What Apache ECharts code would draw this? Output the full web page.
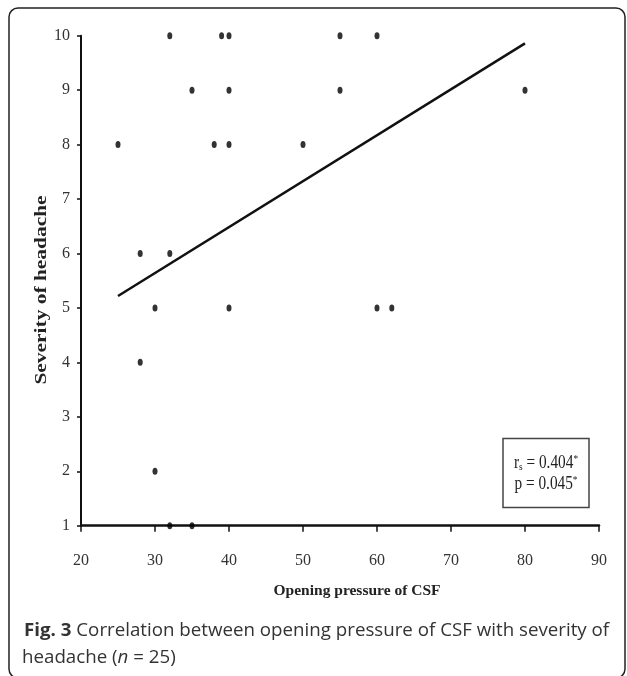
<!DOCTYPE html>
<html>
<head>
<meta charset="utf-8">
<script src="https://cdn.jsdelivr.net/npm/echarts@6/dist/echarts.min.js"></script>
<style>
html,body{margin:0;padding:0;background:#fff;}
#chart{width:627px;height:676px;}
</style>
</head>
<body>
<div id="chart"></div>
<script>
// Data
var pressure = [32, 39, 40, 55, 60, 35, 40, 55, 80, 25, 38, 40, 50, 28, 32, 30, 40, 60, 62, 28, 30, 32, 35];
var severity = [10, 10, 10, 10, 10, 9, 9, 9, 9, 8, 8, 8, 8, 6, 6, 5, 5, 5, 5, 4, 2, 1, 1];
var fitX = [25, 80];
var fitY = [5.22, 9.86];
var xTicks = [20, 30, 40, 50, 60, 70, 80, 90];
var yTicks = [1, 2, 3, 4, 5, 6, 7, 8, 9, 10];
var xTitle = 'Opening pressure of CSF';
var yTitle = 'Severity of headache';
var statLine1 = ['r', 's', ' = 0.404', '*'];
var statLine2 = ['p = 0.045', '*'];
var captionBold = 'Fig. 3';
var captionLine1 = ' Correlation between opening pressure of CSF with severity of';
var captionLine2a = 'headache (';
var captionLine2n = 'n';
var captionLine2b = ' = 25)';

var points = pressure.map(function (p, i) { return [p, severity[i]]; });
var fitLine = fitX.map(function (x, i) { return [x, fitY[i]]; });

var serif = '"Liberation Serif", "Times New Roman", serif';
var sans = '"Open Sans", "Noto Sans", sans-serif';

var chart = echarts.init(document.getElementById('chart'), null, {renderer: 'canvas'});
chart.setOption({
  animation: false,
  backgroundColor: '#fff',
  grid: {left: 81, right: 28, top: 35.7, bottom: 150.3, containLabel: false},
  xAxis: {
    type: 'value', min: xTicks[0], max: xTicks[xTicks.length - 1], interval: 10,
    name: xTitle, nameLocation: 'middle', nameGap: 57,
    nameTextStyle: {fontFamily: serif, fontWeight: 'bold', fontSize: 15.5, color: '#222', padding: [0, 0, 0, 34]},
    axisLine: {show: true, onZero: false, lineStyle: {color: '#111', width: 2.5}},
    axisTick: {show: true, inside: false, length: 6, lineStyle: {color: '#111', width: 1.5}},
    axisLabel: {margin: 27, fontFamily: serif, fontSize: 16, color: '#333'},
    splitLine: {show: false}
  },
  yAxis: {
    type: 'value', min: yTicks[0], max: yTicks[yTicks.length - 1], interval: 1,
    axisLine: {show: true, onZero: false, lineStyle: {color: '#111', width: 2}},
    axisTick: {show: true, inside: false, length: 4, lineStyle: {color: '#111', width: 1.5}},
    axisLabel: {margin: 11, fontFamily: serif, fontSize: 16, color: '#333'},
    splitLine: {show: false}
  },
  series: [
    {
      type: 'line', data: fitLine, symbol: 'none', z: 3,
      lineStyle: {color: '#111', width: 2.5}
    },
    {
      type: 'scatter', data: points, symbol: 'circle', symbolSize: [5, 7], z: 4,
      itemStyle: {color: '#000'}
    }
  ],
  graphic: [
    {
      type: 'rect', z: 10,
      shape: {x: 9, y: 8, width: 616, height: 670, r: 9},
      style: {fill: 'none', stroke: '#222', lineWidth: 1.5}
    },
    {
      type: 'text', z: 11, x: 42, y: 290, rotation: Math.PI / 2, scaleX: 1.26,
      style: {
        text: yTitle, fontFamily: serif, fontWeight: 'bold', fontSize: 17, fill: '#222',
        align: 'center', verticalAlign: 'middle'
      }
    },
    {
      type: 'rect', z: 10,
      shape: {x: 503, y: 438.5, width: 86, height: 69},
      style: {fill: '#fff', stroke: '#444', lineWidth: 1.5}
    },
    {
      type: 'text', z: 11, x: 546, y: 463, scaleX: 0.85,
      style: {
        text: statLine1[0] + '{sub|' + statLine1[1] + '}' + statLine1[2] + '{sup|' + statLine1[3] + '}',
        fontFamily: serif, fontSize: 18, fill: '#222', align: 'center', verticalAlign: 'middle',
        rich: {
          sub: {fontFamily: serif, fontSize: 11, fill: '#222', padding: [8, 0, 0, 0]},
          sup: {fontFamily: serif, fontSize: 11, fill: '#222', padding: [0, 0, 8, 0]}
        }
      }
    },
    {
      type: 'text', z: 11, x: 546, y: 484, scaleX: 0.85,
      style: {
        text: statLine2[0] + '{sup|' + statLine2[1] + '}',
        fontFamily: serif, fontSize: 18, fill: '#222', align: 'center', verticalAlign: 'middle',
        rich: {
          sup: {fontFamily: serif, fontSize: 11, fill: '#222', padding: [0, 0, 8, 0]}
        }
      }
    },
    {
      type: 'text', z: 11, x: 24, y: 631, scaleX: 1.04,
      style: {
        text: '{b|' + captionBold + '}' + captionLine1,
        fontFamily: sans, fontSize: 18, fill: '#333', align: 'left', verticalAlign: 'middle',
        rich: {b: {fontFamily: sans, fontSize: 18, fontWeight: 'bold', fill: '#333'}}
      }
    },
    {
      type: 'text', z: 11, x: 22, y: 658, scaleX: 1.04,
      style: {
        text: captionLine2a + '{i|' + captionLine2n + '}' + captionLine2b,
        fontFamily: sans, fontSize: 18, fill: '#333', align: 'left', verticalAlign: 'middle',
        rich: {i: {fontFamily: sans, fontSize: 18, fontStyle: 'italic', fill: '#333'}}
      }
    }
  ]
});
</script>
</body>
</html>
